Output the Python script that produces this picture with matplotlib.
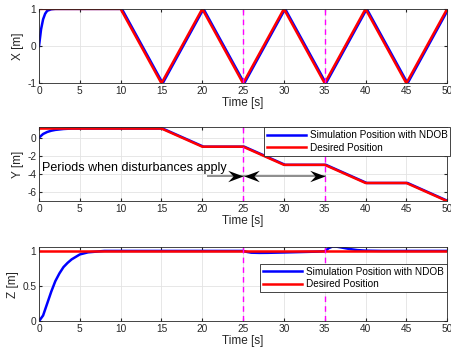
import numpy as np
import matplotlib
matplotlib.use('Agg')
import matplotlib.pyplot as plt
from matplotlib.path import Path

plt.rcParams['font.family'] = ['Liberation Sans', 'DejaVu Sans']

# desired trajectories (corner points)
t_xd = [0, 10, 15, 20, 25, 30, 35, 40, 45, 50]
xd = [1, 1, -1, 1, -1, 1, -1, 1, -1, 1]
t_yd = [0, 15, 20, 25, 30, 35, 40, 45, 50]
yd = [1, 1, -1, -1, -3, -3, -5, -5, -7]
t_zd = [0, 50]
zd = [1, 1]

# simulated trajectories with NDOB
t_xs = [0, 0.25, 0.5, 0.75, 1.0, 1.5, 2.0, 10.15, 15.15, 20.15, 25.15, 30.15, 35.15, 40.15, 45.15, 50]
xs = [0, 0.45, 0.72, 0.87, 0.95, 0.99, 1, 1, -1, 1, -1, 1, -1, 1, -1, 0.94]
t_ys = [0, 0.5, 1, 1.5, 2, 3, 4, 15.15, 20.15, 25.15, 30.15, 35.15, 40.15, 45.15, 50]
ys = [0, 0.4, 0.62, 0.76, 0.85, 0.95, 1, 1, -1, -1, -3, -3, -5, -5, -6.95]
t_zs = [0, 0.5, 1, 1.5, 2, 2.5, 3, 3.5, 4, 5, 6, 7, 8, 25, 25.5, 26, 27, 28, 30, 32, 34, 35,
        35.5, 36, 36.5, 37, 38, 39, 40, 42, 50]
zs = [0, 0.08, 0.25, 0.42, 0.57, 0.68, 0.77, 0.83, 0.88, 0.95, 0.98, 0.99, 1.0, 1.0, 0.985,
      0.975, 0.972, 0.973, 0.978, 0.984, 0.99, 0.995, 1.04, 1.065, 1.06, 1.05, 1.028, 1.012,
      1.004, 1.0, 1.0]

dist_t = [25, 35]
xticks = np.arange(0, 51, 5)

fig = plt.figure(figsize=(4.51, 3.56), dpi=100)
left, width = 0.0865, 0.905
ax1 = fig.add_axes([left, 0.766, width, 0.209])
ax2 = fig.add_axes([left, 0.435, width, 0.207])
ax3 = fig.add_axes([left, 0.098, width, 0.207])

panels = [
    (ax1, t_xs, xs, t_xd, xd, 'X [m]', (-1, 1), [-1, 0, 1]),
    (ax2, t_ys, ys, t_yd, yd, 'Y [m]', (-7, 1.12), [-6, -4, -2, 0]),
    (ax3, t_zs, zs, t_zd, zd, 'Z [m]', (0, 1.05), [0, 0.5, 1]),
]

for ax, ts, s, td, d, lab, yl, yt in panels:
    ax.plot(ts, s, color='#0000ff', lw=1.8, label='Simulation Position with NDOB')
    ax.plot(td, d, color='#ff0000', lw=1.8, label='Desired Position')
    for tv in dist_t:
        ax.axvline(tv, color='#ff00ff', lw=1.0, ls=(0, (4, 3)))
    ax.set_xlim(0, 50)
    ax.set_ylim(*yl)
    ax.set_xticks(xticks)
    ax.set_yticks(yt)
    ax.set_yticklabels([f'{v:g}' for v in yt])
    ax.grid(True, color='#e3e3e3', lw=0.6)
    ax.set_axisbelow(True)
    ax.tick_params(direction='in', labelsize=7.3, colors='#262626', length=2.5, pad=2,
                   top=True, right=True)
    for sp in ax.spines.values():
        sp.set_color('#262626')
        sp.set_linewidth(0.6)
    ax.set_xlabel('Time [s]', fontsize=8.5, color='#262626', labelpad=1)
    ax.set_ylabel(lab, fontsize=8.5, color='#262626', labelpad=2)

leg_kw = dict(fontsize=7.2, frameon=True, fancybox=False, edgecolor='#262626',
              framealpha=1, handlelength=3.9, handletextpad=0.4, borderpad=0.3,
              labelspacing=0.25, borderaxespad=0)
l2 = ax2.legend(loc='upper right', bbox_to_anchor=(1.008, 1.0), **leg_kw)
l2.get_frame().set_linewidth(0.6)
l3 = ax3.legend(loc='upper right', bbox_to_anchor=(1.0, 0.78), **leg_kw)
l3.get_frame().set_linewidth(0.6)

# annotation for the disturbance periods
ax2.text(0.35, -3.3, 'Periods when disturbances apply', fontsize=9, va='center', ha='left')
ay = -4.25
ax2.plot([20.7, 25], [ay, ay], color='#8c8c8c', lw=1.4, zorder=4)
ax2.plot([25.1, 35], [ay, ay], color='#8c8c8c', lw=1.4, zorder=4)
head_r = Path([(0, 0), (-2, 0.75), (-1.3, 0), (-2, -0.75), (0, 0)],
              [Path.MOVETO, Path.LINETO, Path.LINETO, Path.LINETO, Path.CLOSEPOLY])
head_l = Path([(0, 0), (2, 0.75), (1.3, 0), (2, -0.75), (0, 0)],
              [Path.MOVETO, Path.LINETO, Path.LINETO, Path.LINETO, Path.CLOSEPOLY])
ax2.plot([25, 35], [ay, ay], ls='none', marker=head_r, ms=22, color='k', mew=0, zorder=5)
ax2.plot([25.1], [ay], ls='none', marker=head_l, ms=22, color='k', mew=0, zorder=5)

fig.savefig('out.png', dpi=100)
